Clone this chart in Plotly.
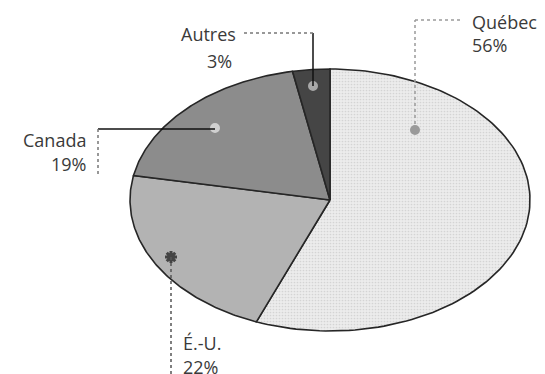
import numpy as np
import plotly.graph_objects as go

# data
labels = ["Québec", "É.-U.", "Canada", "Autres"]
shares = [56, 22, 19, 3]
pct_text = ["56%", "22%", "19%", "3%"]

# styling
fills = ["#ececec", "#b3b3b3", "#8c8c8c", "#454545"]
dot_colors = ["#9a9a9a", "#444444", "#d0d0d0", "#a8a8a8"]
W, H = 545, 374
OFF = 8  # page body margin in the html
cx, cy, rx, ry = 330, 200, 200, 131

fig = go.Figure()

total = sum(shares)
start = 0.0
for lab, val, col in zip(labels, shares, fills):
    end = start + val / total
    th = np.linspace(start, end, 120) * 2 * np.pi
    xs = np.concatenate([[cx], cx + rx * np.sin(th), [cx]])
    ys = np.concatenate([[cy], cy - ry * np.cos(th), [cy]])
    fig.add_trace(go.Scatter(
        x=xs, y=ys, mode="lines", fill="toself", fillcolor=col,
        line=dict(color="#262626", width=1.6), name=lab, hoverinfo="name",
        fillpattern=dict(shape=".", size=3, solidity=0.25, fgcolor="#d4d4d4", bgcolor=col, fillmode="replace") if lab == "Québec" else None,
    ))
    start = end

# leader lines and label anchors (layout only)
dots = {"Québec": (415, 130), "É.-U.": (171, 257), "Canada": (215, 128), "Autres": (313, 86)}
leaders = [
    # (x0, y0, x1, y1, color, dash)
    (415, 130, 415, 20, "#9a9a9a", "dot"),
    (415, 20, 462, 20, "#9a9a9a", "dot"),
    (313, 86, 313, 33, "#111111", "solid"),
    (313, 33, 242, 33, "#777777", "dot"),
    (215, 129, 98, 129, "#111111", "solid"),
    (98, 129, 98, 174, "#777777", "dot"),
    (171, 257, 171, 374, "#555555", "dot"),
]
for x0, y0, x1, y1, c, d in leaders:
    fig.add_shape(type="line", x0=x0, y0=y0, x1=x1, y1=y1,
                  line=dict(color=c, width=1.5, dash=d), layer="above")

for lab, dc in zip(labels, dot_colors):
    x, y = dots[lab]
    eu = lab == "É.-U."
    fig.add_trace(go.Scatter(x=[x], y=[y], mode="markers",
                             marker=dict(color=dc, size=10 if eu else 8,
                                         symbol="asterisk-open" if eu else "circle",
                                         line=dict(color=dc, width=3 if eu else 2)),
                             hoverinfo="skip"))

txt = dict(family="Open Sans, DejaVu Sans, sans-serif", size=18, color="#3a3a3a")
label_pos = {
    "Québec": (470, 22, 470, 45, "left"),
    "Autres": (238, 34, 234, 61, "right"),
    "Canada": (88, 140, 88, 164, "right"),
    "É.-U.": (181, 343, 181, 367, "left"),
}
for lab, pt in zip(labels, pct_text):
    x1, y1, x2, y2, anc = label_pos[lab]
    fig.add_annotation(x=x1, y=y1, text=lab, showarrow=False, xanchor=anc, yanchor="middle", font=txt)
    fig.add_annotation(x=x2, y=y2, text=pt, showarrow=False, xanchor=anc, yanchor="middle", font=txt)

fig.update_xaxes(range=[OFF, W + OFF], visible=False, fixedrange=True)
fig.update_yaxes(range=[H + OFF, OFF], visible=False, fixedrange=True)
fig.update_layout(width=W, height=H, margin=dict(l=0, r=0, t=0, b=0),
                  plot_bgcolor="white", paper_bgcolor="white", showlegend=False)

fig.write_html("out.html")
